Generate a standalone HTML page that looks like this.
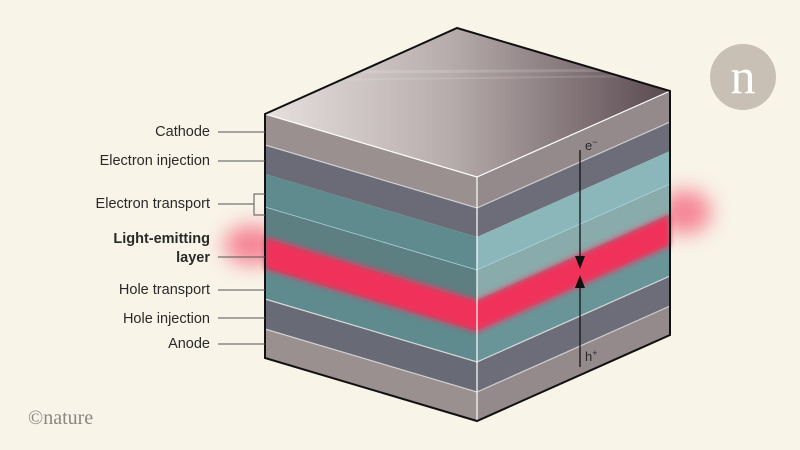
<!DOCTYPE html>
<html><head><meta charset="utf-8"><style>
html,body{margin:0;padding:0;background:#f8f4e8;}
svg{display:block}
text{font-family:"Liberation Sans",sans-serif;fill:#2a2a2a;}
</style></head><body>
<svg width="800" height="450" viewBox="0 0 800 450">
<defs>
<linearGradient id="top" x1="0" y1="0" x2="1" y2="0">
<stop offset="0" stop-color="#e6e0de"/><stop offset="0.45" stop-color="#b8adad"/><stop offset="1" stop-color="#5a4a50"/>
</linearGradient>
<filter id="b3" x="-20%" y="-20%" width="140%" height="140%"><feGaussianBlur stdDeviation="3"/></filter>
<filter id="b10" x="-100%" y="-100%" width="300%" height="300%"><feGaussianBlur stdDeviation="10"/></filter>
</defs>
<rect width="800" height="450" fill="#f8f4e8"/>
<!-- glow outside -->
<ellipse cx="252" cy="245" rx="28" ry="20" fill="#f4607a" opacity="0.75" filter="url(#b10)"/>
<ellipse cx="685" cy="212" rx="26" ry="22" fill="#f4607a" opacity="0.75" filter="url(#b10)"/>
<!-- top -->
<polygon points="457,28 670,91 477,177 265,114" fill="url(#top)"/>
<line x1="330" y1="72" x2="670" y2="70" stroke="#fff" stroke-opacity="0.15" stroke-width="3"/>
<line x1="320" y1="80" x2="640" y2="76" stroke="#fff" stroke-opacity="0.12" stroke-width="2"/>
<!-- layers: left face -->
<g>
<polygon points="265,114 477,177 477,208 265,145" fill="#9b9090"/>
<polygon points="265,145 477,208 477,237 265,174" fill="#6a6b76"/>
<polygon points="265,174 477,237 477,270 265,207" fill="#5f8b8e"/>
<polygon points="265,207 477,270 477,300 265,237" fill="#5d7f82"/>
<polygon points="265,237 477,300 477,332 265,269" fill="#5d7f82"/>
<polygon points="265,269 477,332 477,362 265,299" fill="#5f8b8e"/>
<polygon points="265,299 477,362 477,392 265,329" fill="#686a75"/>
<polygon points="265,329 477,392 477,421 265,358" fill="#9b9090"/>
</g>
<!-- right face -->
<g>
<polygon points="477,177 670,91 670,122 477,208" fill="#958a8b"/>
<polygon points="477,208 670,122 670,151 477,237" fill="#6c6d78"/>
<polygon points="477,237 670,151 670,184 477,270" fill="#8bb6ba"/>
<polygon points="477,270 670,184 670,214 477,300" fill="#8aabab"/>
<polygon points="477,300 670,214 670,246 477,332" fill="#6a9598"/>
<polygon points="477,332 670,246 670,276 477,362" fill="#6a9598"/>
<polygon points="477,362 670,276 670,306 477,392" fill="#6c6d78"/>
<polygon points="477,392 670,306 670,335 477,421" fill="#958a8b"/>
</g>
<!-- red band -->
<g filter="url(#b3)">
<polygon points="265,237 477,300 477,332 265,269" fill="#f0305a"/>
<polygon points="477,300 670,214 670,246 477,332" fill="#f0305a"/>
</g>
<!-- edges -->
<g stroke="#fff" stroke-width="1.2" fill="none">
<polyline points="265,114 477,177 670,91"/>
<polyline points="265,145 477,208 670,122" stroke-opacity="0.6"/>
<polyline points="265,207 477,270 670,184" stroke="#a8d4dc" stroke-width="0.8"/>
<polyline points="265,299 477,362 670,276" stroke-opacity="0.7"/>
<polyline points="265,329 477,392 670,306" stroke-opacity="0.6"/>
<line x1="477" y1="177" x2="477" y2="421"/>
</g>
<polygon points="457,28 670,91 670,335 477,421 265,358 265,114" fill="none" stroke="#111" stroke-width="2"/>
<!-- arrows -->
<g stroke="#111" stroke-width="1.3">
<line x1="580" y1="150" x2="580" y2="262"/>
<line x1="580" y1="281" x2="580" y2="367"/>
</g>
<polygon points="575,256 585,256 580,269" fill="#111"/>
<polygon points="575,288 585,288 580,275" fill="#111"/>
<text x="585" y="150" font-size="13">e<tspan font-size="9" dy="-5">−</tspan></text>
<text x="585" y="361" font-size="13">h<tspan font-size="9" dy="-5">+</tspan></text>
<!-- labels -->
<g font-size="14.5" text-anchor="end">
<text x="210" y="136">Cathode</text>
<text x="210" y="165">Electron injection</text>
<text x="210" y="208">Electron transport</text>
<text x="210" y="243" font-weight="bold">Light-emitting</text>
<text x="210" y="262" font-weight="bold">layer</text>
<text x="210" y="294">Hole transport</text>
<text x="210" y="323">Hole injection</text>
<text x="210" y="348">Anode</text>
</g>
<g stroke="#555" stroke-width="1">
<line x1="218" y1="132" x2="265" y2="132"/>
<line x1="218" y1="161" x2="265" y2="161"/>
<line x1="218" y1="204" x2="254" y2="204"/>
<polyline points="265,194 254,194 254,215 265,215" fill="none"/>
<line x1="218" y1="257" x2="265" y2="257"/>
<line x1="218" y1="290" x2="265" y2="290"/>
<line x1="218" y1="318" x2="265" y2="318"/>
<line x1="218" y1="344" x2="265" y2="344"/>
</g>
<!-- logo -->
<circle cx="743" cy="77" r="33" fill="#c8c0b5"/>
<text x="743" y="93" font-size="50" text-anchor="middle" style="font-family:'Liberation Serif',serif;fill:#fff">n</text>
<text x="28" y="424" font-size="20" style="font-family:'Liberation Serif',serif;fill:#8a8580">©nature</text>
</svg>
</body></html>
